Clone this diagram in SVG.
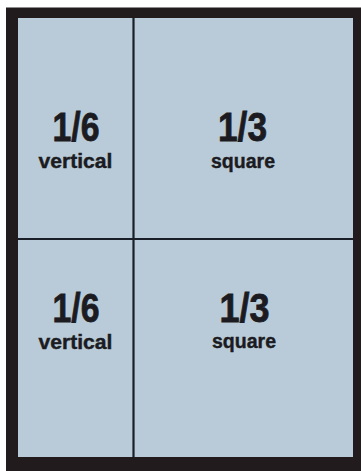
<svg xmlns="http://www.w3.org/2000/svg" width="361" height="471" viewBox="0 0 361 471">
<style>
.big{font-family:"Liberation Sans",Arial,sans-serif;font-weight:bold;font-size:40px;fill:#1b1b21;stroke:#1b1b21;stroke-width:0.8;text-anchor:middle}
.small{font-family:"Liberation Sans",Arial,sans-serif;font-weight:bold;font-size:20px;fill:#1b1b21;stroke:#1b1b21;stroke-width:0.4;text-anchor:middle}
.cell{fill:#b9cbd8}
.div{stroke:#1a1e28;stroke-width:2.2;fill:none}
</style>
<rect x="0" y="0" width="361" height="471" fill="#ffffff"/>
<rect x="6" y="7.5" width="355" height="463.5" fill="#211b1d"/>
<rect class="cell" x="18" y="18" width="335" height="439"/>
<g id="connectors">
<line class="div" x1="133.5" y1="18" x2="133.5" y2="457"/>
<line class="div" x1="18" y1="239" x2="353" y2="239"/>
</g>
<g id="cell-top-left">
<text class="big" x="76" y="141" textLength="47" lengthAdjust="spacingAndGlyphs">1/6</text>
<text class="small" x="75.5" y="167.5" textLength="74" lengthAdjust="spacingAndGlyphs">vertical</text>
</g>
<g id="cell-top-right">
<text class="big" x="242.5" y="141" textLength="49" lengthAdjust="spacingAndGlyphs">1/3</text>
<text class="small" x="243" y="167.5" textLength="64" lengthAdjust="spacingAndGlyphs">square</text>
</g>
<g id="cell-bottom-left">
<text class="big" x="76" y="322" textLength="47" lengthAdjust="spacingAndGlyphs">1/6</text>
<text class="small" x="75.5" y="348.5" textLength="74" lengthAdjust="spacingAndGlyphs">vertical</text>
</g>
<g id="cell-bottom-right">
<text class="big" x="244.5" y="322" textLength="50" lengthAdjust="spacingAndGlyphs">1/3</text>
<text class="small" x="244" y="348" textLength="64" lengthAdjust="spacingAndGlyphs">square</text>
</g>
</svg>
